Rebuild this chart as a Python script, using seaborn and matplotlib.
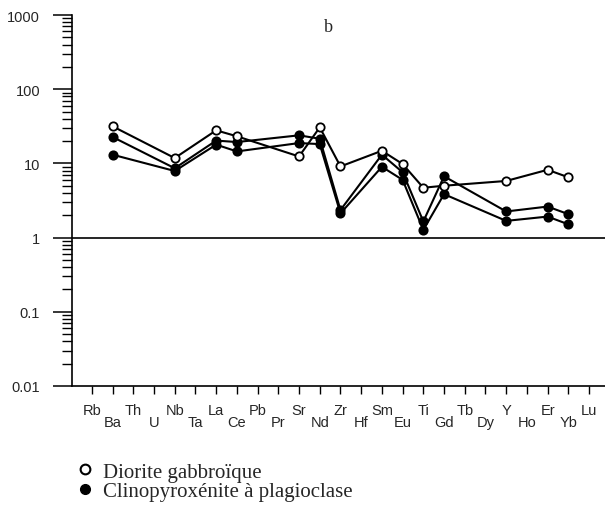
import matplotlib
matplotlib.use("Agg")
import matplotlib.pyplot as plt
from matplotlib.lines import Line2D
from matplotlib.ticker import FixedLocator, LogLocator, NullFormatter
import numpy as np
import pandas as pd
import seaborn as sns

# Éléments du diagramme multi-élémentaire (ordre de l'axe x)
ELEMENTS = ["Rb", "Ba", "Th", "U", "Nb", "Ta", "La", "Ce", "Pb", "Pr", "Sr", "Nd",
            "Zr", "Hf", "Sm", "Eu", "Ti", "Gd", "Tb", "Dy", "Y", "Ho", "Er", "Yb", "Lu"]

# Éléments analysés
SAMPLED = ["Ba", "Nb", "La", "Ce", "Sr", "Nd", "Zr", "Sm", "Eu", "Ti", "Gd", "Y", "Er", "Yb"]

# Valeurs normalisées
diorite = [31.6, 11.8, 27.9, 23.2, 12.4, 30.6, 9.1, 14.8, 9.8, 4.7, 5.0, 5.8, 8.2, 6.5]
clino_1 = [22.7, 8.6, 20.3, 19.4, 23.9, 21.5, 2.35, 13.1, 7.6, 1.65, 6.7, 2.25, 2.62, 2.07]
clino_2 = [13.1, 7.9, 17.9, 14.5, 18.8, 18.2, 2.12, 9.0, 6.0, 1.27, 3.85, 1.68, 1.92, 1.51]

Y_TICKS = [0.01, 0.1, 1, 10, 100, 1000]
Y_LABELS = ["0.01", "0.1", "1", "10", "100", "1000"]
LEGEND_LABELS = ["Diorite gabbroïque", "Clinopyroxénite à plagioclase"]

pos = [ELEMENTS.index(e) for e in SAMPLED]

sns.set_theme(style="ticks")
plt.rcParams["font.family"] = ["Liberation Sans", "DejaVu Sans"]

fig = plt.figure(figsize=(6.05, 5.10), dpi=100)
ax = fig.add_axes([72 / 605, 1 - 387 / 510, 1 - 72 / 605, (387 - 16) / 510])

ax.axhline(1, color="black", lw=1.2, zorder=1)

for values, face in [(clino_2, "black"), (clino_1, "black"), (diorite, "white")]:
    df = pd.DataFrame({"x": pos, "y": values})
    sns.lineplot(data=df, x="x", y="y", ax=ax, color="black", lw=1.5,
                 marker="o", markersize=6, markerfacecolor=face,
                 markeredgecolor="black", markeredgewidth=1.3,
                 estimator=None, sort=False, zorder=3)

ax.set_yscale("log")
ax.set_ylim(0.01, 1000)
ax.set_xlim(-0.96, 24.77)

ax.yaxis.set_major_locator(FixedLocator(Y_TICKS))
ax.set_yticklabels(Y_LABELS)
ax.yaxis.set_minor_locator(LogLocator(base=10, subs=np.arange(2, 10)))
ax.yaxis.set_minor_formatter(NullFormatter())
ax.tick_params(axis="y", which="major", direction="out", length=14, width=1.1,
               labelsize=10.5, pad=9, color="black")
ax.tick_params(axis="y", which="minor", direction="out", length=7, width=1.0,
               color="black")

ax.set_xticks(range(len(ELEMENTS)))
ax.set_xticklabels(ELEMENTS)
ax.tick_params(axis="x", direction="out", length=6, width=1.0, labelsize=10.5,
               pad=6, color="black")
for i, tick in enumerate(ax.xaxis.get_major_ticks()):
    if i % 2:
        tick.set_pad(15)

for side in ["top", "right"]:
    ax.spines[side].set_visible(False)
for side in ["left", "bottom"]:
    ax.spines[side].set_linewidth(1.2)
    ax.spines[side].set_color("black")

ax.set_xlabel("")
ax.set_ylabel("")
ax.grid(False)

fig.text(328 / 605, 1 - 27 / 510, "b", family=["Liberation Serif"],
         fontsize=13, ha="center", va="center")

handles = [
    Line2D([], [], ls="none", marker="o", markersize=7, markerfacecolor="white",
           markeredgecolor="black", markeredgewidth=1.5),
    Line2D([], [], ls="none", marker="o", markersize=7, markerfacecolor="black",
           markeredgecolor="black"),
]
fig.legend(handles, LEGEND_LABELS, loc="upper left",
           bbox_to_anchor=(78 / 605, 1 - 463 / 510), frameon=False,
           prop={"family": "Liberation Serif", "size": 15},
           handlelength=0.7, handletextpad=0.5, labelspacing=0.0,
           borderpad=0, borderaxespad=0)

fig.savefig("out.png", dpi=100)
